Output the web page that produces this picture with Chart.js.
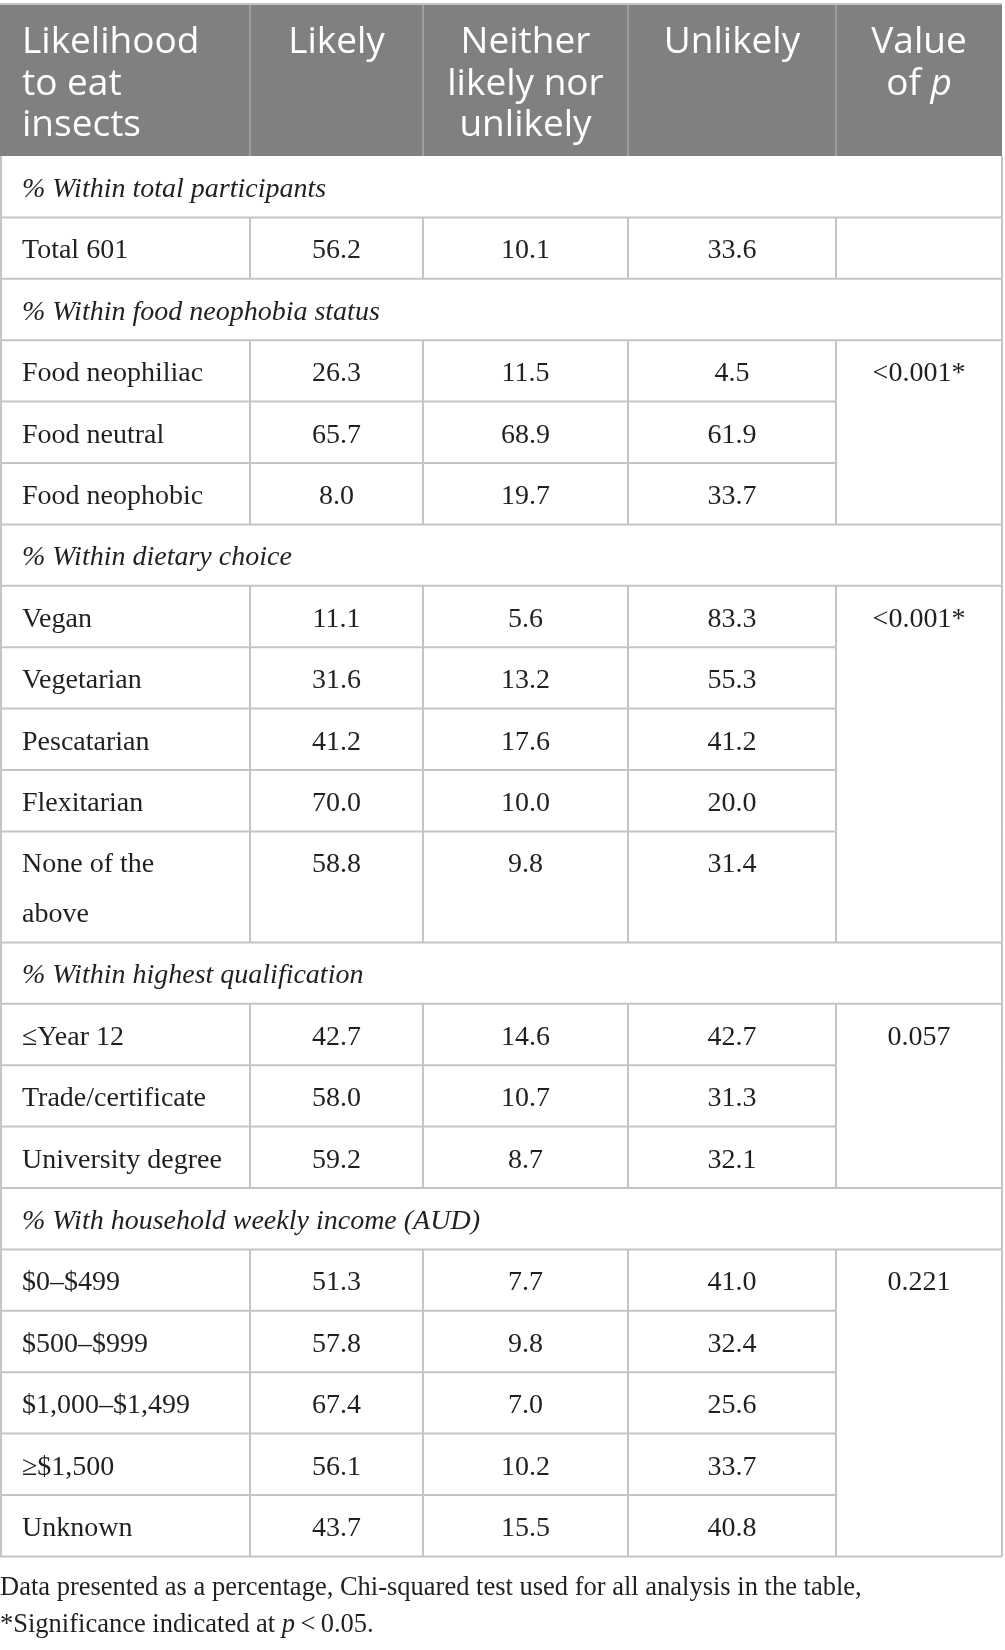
<!DOCTYPE html>
<html>
<head>
<meta charset="utf-8">
<script src="https://cdn.jsdelivr.net/npm/chart.js@4.4.1/dist/chart.umd.min.js"></script>
<style>
  html, body { margin: 0; padding: 0; background: #fff; }
  #wrap { width: 1005px; height: 1650px; }
</style>
</head>
<body>
<div id="wrap"><canvas id="insects"></canvas></div>
<script>
// TABLE DATA //

var headers = [['Likelihood', 'to eat', 'insects'], ['Likely'], ['Neither', 'likely nor', 'unlikely'], ['Unlikely'], ['Value', 'of |p']];
var groups = ['% Within total participants', '% Within food neophobia status', '% Within dietary choice',
              '% Within highest qualification', '% With household weekly income (AUD)'];
var categories = ['Total 601', 'Food neophiliac', 'Food neutral', 'Food neophobic',
                  'Vegan', 'Vegetarian', 'Pescatarian', 'Flexitarian', 'None of the\nabove',
                  '\u2264Year 12', 'Trade/certificate', 'University degree',
                  '$0\u2013$499', '$500\u2013$999', '$1,000\u2013$1,499', '\u2265$1,500', 'Unknown'];
var groupOf = [0, 1, 1, 1, 2, 2, 2, 2, 2, 3, 3, 3, 4, 4, 4, 4, 4];
var likely   = [56.2, 26.3, 65.7, 8.0, 11.1, 31.6, 41.2, 70.0, 58.8, 42.7, 58.0, 59.2, 51.3, 57.8, 67.4, 56.1, 43.7];
var neither  = [10.1, 11.5, 68.9, 19.7, 5.6, 13.2, 17.6, 10.0, 9.8, 14.6, 10.7, 8.7, 7.7, 9.8, 7.0, 10.2, 15.5];
var unlikely = [33.6, 4.5, 61.9, 33.7, 83.3, 55.3, 41.2, 20.0, 31.4, 42.7, 31.3, 32.1, 41.0, 32.4, 25.6, 33.7, 40.8];
var pValues  = ['', '<0.001*', '<0.001*', '0.057', '0.221'];
var footnote = [['Data presented as a percentage, Chi-squared test used for all analysis in the table,'],
                ['*Significance indicated at ', '|p', '\u2009<\u20090.05.']];

// LAYOUT //

var colEdges = [0, 250, 423, 628, 836, 1002];
var headTop = 4, headBottom = 156, rowH = 61.4, lineH = 49.6, baseOff = 41, padL = 22;
var serif = '28px "Liberation Serif"';
var serifItalic = 'italic 28px "Liberation Serif"';
var sans = '37px "Open Sans"';
var sansItalic = 'italic 37px "Open Sans"';
var noteFont = '26.5px "Liberation Serif"', noteItalic = 'italic 26.5px "Liberation Serif"';
var noteBase = [1595, 1632];
var headFill = '#7f807f', headLine = '#9c9c9c', gridLine = '#c4c4c4';

var rows = [], rowOf = [], groupTop = [];
var y = headBottom;
groups.forEach(function (g, gi) {
    rows.push({ kind: 'section', label: g, top: y, bottom: y + rowH });
    y += rowH;
    var idx = categories.map(function (c, i) { return i; }).filter(function (i) { return groupOf[i] === gi; });
    groupTop[gi] = y;
    idx.forEach(function (i, k) {
        var lines = categories[i].split('\n');
        var h = rowH + (lines.length - 1) * lineH;
        var r = { kind: 'data', i: i, lines: lines, top: y, bottom: y + h, last: k === idx.length - 1 };
        rows.push(r);
        rowOf[i] = r;
        y += h;
    });
});

function mid(c) { return (colEdges[c] + colEdges[c + 1]) / 2; }
function cellPoints(col) {
    return categories.map(function (c, i) { return { x: mid(col), y: rowOf[i].top + baseOff }; });
}

// draw text runs; '|' prefix marks an italic piece
function drawRuns(ctx, runs, x, y, align, font, italic) {
    var widths = runs.map(function (r) {
        ctx.font = r[0] === '|' ? italic : font;
        return ctx.measureText(r.replace(/^\|/, '')).width;
    });
    var total = widths.reduce(function (a, b) { return a + b; }, 0);
    var cx = align === 'center' ? x - total / 2 : x;
    ctx.textAlign = 'left';
    runs.forEach(function (r, k) {
        ctx.font = r[0] === '|' ? italic : font;
        ctx.fillText(r.replace(/^\|/, ''), cx, y);
        cx += widths[k];
    });
}

var tablePlugin = {
    id: 'tablePlugin',
    afterDatasetsDraw: function (chart) {
        var ctx = chart.ctx, xs = chart.scales.x, ys = chart.scales.y;
        var px = function (v) { return xs.getPixelForValue(v); };
        var py = function (v) { return ys.getPixelForValue(v); };
        var x0 = px(colEdges[0]), x5 = px(colEdges[5]), x4 = px(colEdges[4]);
        ctx.save();
        ctx.textBaseline = 'alphabetic';

        // header band
        ctx.fillStyle = headFill;
        ctx.fillRect(x0, py(headTop), x5 - x0, py(headBottom) - py(headTop));
        ctx.strokeStyle = headLine;
        ctx.lineWidth = 2;
        for (var c = 1; c < 5; c++) {
            ctx.beginPath();
            ctx.moveTo(px(colEdges[c]), py(headTop));
            ctx.lineTo(px(colEdges[c]), py(headBottom));
            ctx.stroke();
        }
        ctx.fillStyle = '#ffffff';
        headers.forEach(function (lines, c) {
            lines.forEach(function (ln, k) {
                var by = py(headTop + 49 + k * 41.5);
                if (c === 0) drawRuns(ctx, ln.split(/(?=\|)/), px(colEdges[0] + padL), by, 'left', sans, sansItalic);
                else drawRuns(ctx, ln.split(/(?=\|)/), px(mid(c)), by, 'center', sans, sansItalic);
            });
        });

        // grid
        ctx.strokeStyle = gridLine;
        ctx.lineWidth = 2;
        function hline(a, b, yy) { ctx.beginPath(); ctx.moveTo(a, py(yy)); ctx.lineTo(b, py(yy)); ctx.stroke(); }
        function vline(xx, a, b) { ctx.beginPath(); ctx.moveTo(px(xx), py(a)); ctx.lineTo(px(xx), py(b)); ctx.stroke(); }
        hline(x0, x5, headTop);
        rows.forEach(function (r) {
            if (r.kind === 'section') {
                hline(x0, x5, r.bottom);
                vline(colEdges[0] + 1, r.top, r.bottom);
                vline(colEdges[5], r.top, r.bottom);
            } else {
                hline(x0, r.last ? x5 : x4, r.bottom);
                colEdges.forEach(function (e, k) { vline(k === 0 ? e + 1 : e, r.top, r.bottom); });
            }
        });

        // row labels and section titles
        ctx.fillStyle = '#231f20';
        rows.forEach(function (r) {
            if (r.kind === 'section') {
                ctx.font = serifItalic;
                ctx.textAlign = 'left';
                ctx.fillText(r.label, px(colEdges[0] + padL), py(r.top + baseOff));
            } else {
                ctx.font = serif;
                ctx.textAlign = 'left';
                r.lines.forEach(function (ln, k) {
                    ctx.fillText(ln, px(colEdges[0] + padL), py(r.top + baseOff + k * lineH));
                });
            }
        });

        // cell values from the dataset points
        ctx.font = serif;
        ctx.textAlign = 'center';
        chart.data.datasets.forEach(function (ds, d) {
            chart.getDatasetMeta(d).data.forEach(function (el, i) {
                ctx.fillText(ds.texts[i], el.x, el.y);
            });
        });

        // footnote
        footnote.forEach(function (runs, k) {
            drawRuns(ctx, runs, px(colEdges[0]), py(noteBase[k]), 'left', noteFont, noteItalic);
        });
        ctx.restore();
    }
};

var valueSets = [likely, neither, unlikely];
var datasets = valueSets.map(function (vals, k) {
    return {
        label: headers[k + 1].join(' '),
        data: cellPoints(k + 1),
        texts: vals.map(function (v) { return v.toFixed(1); }),
        pointRadius: 0,
        showLine: false
    };
});
datasets.push({
    label: 'Value of p',
    data: groups.map(function (g, gi) { return { x: mid(4), y: groupTop[gi] + baseOff }; }),
    texts: pValues,
    pointRadius: 0,
    showLine: false
});

var ctx = document.getElementById('insects').getContext('2d');
var chart = new Chart(ctx, {
    type: 'scatter',
    data: { datasets: datasets },
    options: {
        responsive: true,
        maintainAspectRatio: false,
        devicePixelRatio: 1,
        animation: false,
        layout: { padding: 0 },
        plugins: { legend: { display: false }, tooltip: { enabled: false } },
        scales: {
            x: { type: 'linear', min: 0, max: 1005, display: false },
            y: { type: 'linear', min: 0, max: 1650, reverse: true, display: false }
        }
    },
    plugins: [tablePlugin]
});
</script>
</body>
</html>
